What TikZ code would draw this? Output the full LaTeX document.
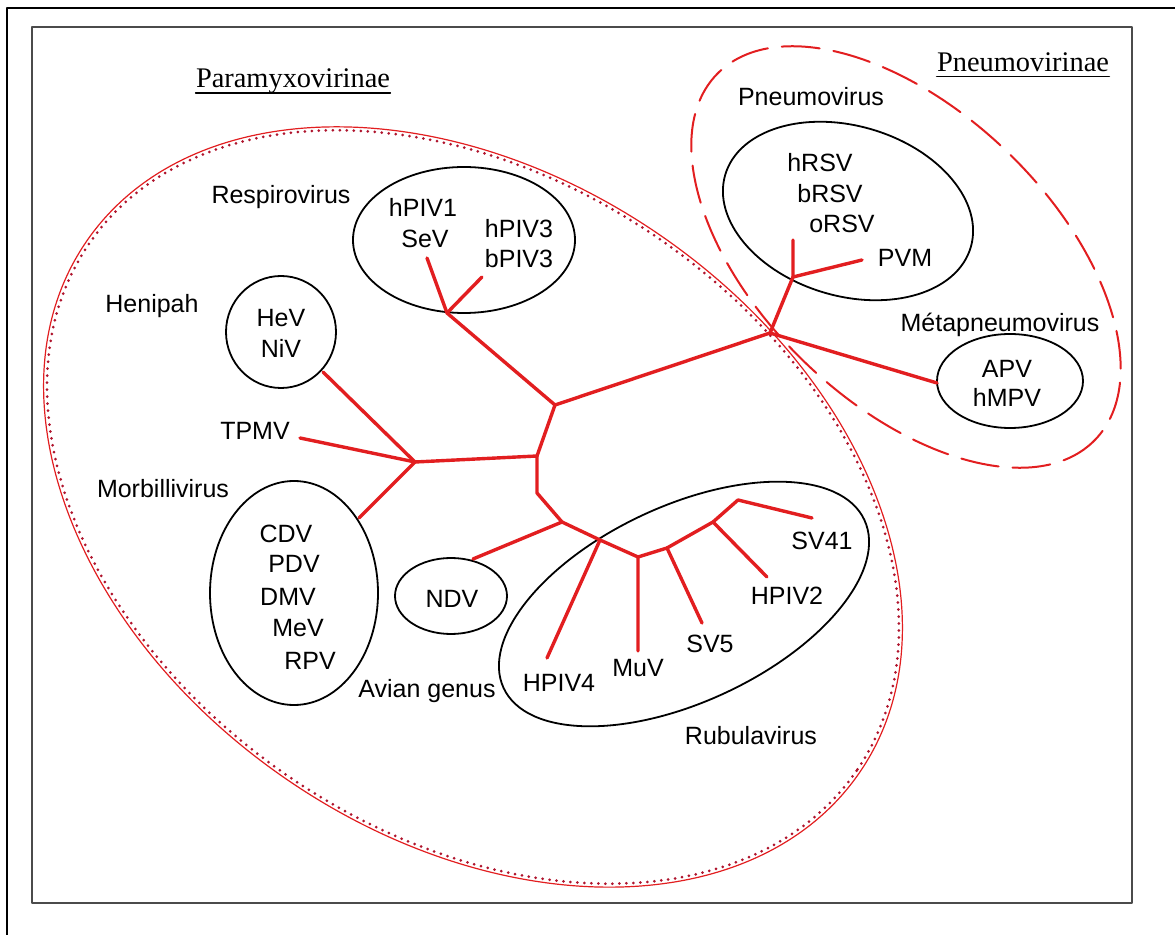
\documentclass[tikz,border=0pt]{standalone}
\usepackage{fontspec}
\setmainfont{Liberation Serif}
\setsansfont{Liberation Sans}
\definecolor{treered}{RGB}{226,30,32}
\definecolor{dotred}{RGB}{175,20,45}
\definecolor{framegray}{RGB}{75,75,75}

\begin{document}
\begin{tikzpicture}[x=0.5pt, y=-0.5pt, line join=round, line cap=round,
  lbl/.style={font=\sffamily\fontsize{12.5}{14}\selectfont, inner sep=0pt, anchor=base},
  ttl/.style={font=\rmfamily\fontsize{14.2}{16}\selectfont, inner sep=0pt, anchor=base},
  branch/.style={treered, line width=1.7pt},
  genus/.style={black, line width=0.9pt}]
	% Page size (pixels of the reference)
	\useasboundingbox (0,0) rectangle (1175,935);
	
	% Frames
	\draw[line width=1pt] (7,935) -- (7,8) -- (1175,8);
	\draw[framegray, line width=0.8pt] (32,27) rectangle (1132,903);
	
	% Subfamily boundaries
	\coordinate (PC) at (473,507);  % centre of Paramyxovirinae
	\coordinate (NC) at (906,257);  % centre of Pneumovirinae
	\draw[treered, line width=0.6pt, rotate around={-34.5:(PC)}] (PC) ellipse [x radius=469, y radius=330];
	\draw[dotred, line width=1.5pt, dash pattern=on 0pt off 3.5pt, rotate around={-34.5:(PC)}] (PC) ellipse [x radius=465.5, y radius=326.5];
	\draw[treered, line width=1pt, dash pattern=on 19pt off 7pt, rotate around={-44:(NC)}] (NC) ellipse [x radius=263, y radius=146];
	
	% Genus boundaries
	\draw[genus] (464,240) ellipse [x radius=111, y radius=73];  % Respirovirus
	\draw[genus] (281,332) ellipse [x radius=55, y radius=56];   % Henipah
	\draw[genus] (294,593) ellipse [x radius=84, y radius=112];  % Morbillivirus
	\draw[genus] (451,596) ellipse [x radius=56, y radius=38];   % Avian genus
	\draw[genus, rotate around={25:(684,604)}] (684,604) ellipse [x radius=199, y radius=98];    % Rubulavirus
	\draw[genus, rotate around={-16.5:(848,211)}] (848,211) ellipse [x radius=128, y radius=85]; % Pneumovirus
	\draw[genus] (1010,381) ellipse [x radius=73, y radius=47]; % Metapneumovirus
	
	% Titles
	\node[ttl] (tpara) at (293,88) {Paramyxovirinae};
	\node[ttl] (tpneu) at (1023,72) {Pneumovirinae};
	\draw[line width=0.7pt] ([yshift=-2.6pt]tpara.base west) -- ([yshift=-2.6pt]tpara.base east);
	\draw[line width=0.7pt] ([yshift=-2.4pt]tpneu.base west) -- ([yshift=-2.4pt]tpneu.base east);
	
	% Genus names
	\node[lbl] (respiro) at (281,204) {Respirovirus};
	\node[lbl] (henipah) at (152,313) {Henipah};
	\node[lbl] (morbilli) at (163,498) {Morbillivirus};
	\node[lbl] (avian) at (427,698) {Avian genus};
	\node[lbl] (rubula) at (751,745) {Rubulavirus};
	\node[lbl] (pneumo) at (811,106) {Pneumovirus};
	\node[lbl] (metapneumo) at (1000,332) {Métapneumovirus};
	
	% Virus names
	\node[lbl] (hpivone) at (423,217) {hPIV1};
	\node[lbl] (sev) at (425,248) {SeV};
	\node[lbl] (hpivthree) at (519,238) {hPIV3};
	\node[lbl] (bpivthree) at (519,268) {bPIV3};
	\node[lbl] (hev) at (281,327) {HeV};
	\node[lbl] (niv) at (281,358) {NiV};
	\node[lbl] (tpmv) at (255,440) {TPMV};
	\node[lbl] (cdv) at (286,543) {CDV};
	\node[lbl] (pdv) at (294,573) {PDV};
	\node[lbl] (dmv) at (288,606) {DMV};
	\node[lbl] (mev) at (298,637) {MeV};
	\node[lbl] (rpv) at (310,670) {RPV};
	\node[lbl] (ndv) at (452,608) {NDV};
	\node[lbl] (hpivfour) at (559,692) {HPIV4};
	\node[lbl] (muv) at (638,677) {MuV};
	\node[lbl] (svfive) at (710,653) {SV5};
	\node[lbl] (hpivtwo) at (787,605) {HPIV2};
	\node[lbl] (svfortyone) at (822,550) {SV41};
	\node[lbl] (hrsv) at (820,172) {hRSV};
	\node[lbl] (brsv) at (830,203) {bRSV};
	\node[lbl] (orsv) at (842,233) {oRSV};
	\node[lbl] (pvm) at (905,267) {PVM};
	\node[lbl] (apv) at (1007,378) {APV};
	\node[lbl] (hmpv) at (1007,407) {hMPV};
	
	% Tree junctions
	\coordinate (jroot) at (770,333);    % root, on the subfamily border
	\coordinate (jpneu) at (793,277);    % Pneumovirus
	\coordinate (jpara) at (555,405);    % Paramyxovirinae
	\coordinate (jresp) at (447,313);    % Respirovirus
	\coordinate (jmid) at (537,456);
	\coordinate (jmorb) at (415,462);    % Morbilli / Henipah
	\coordinate (jlow) at (537,493);
	\coordinate (javian) at (562,522);
	\coordinate (jrub) at (600,540);     % Rubulavirus
	\coordinate (jmuv) at (638,557);
	\coordinate (jsvfive) at (667,548);
	\coordinate (jhpivtwo) at (713,522);
	\coordinate (jsvfortyone) at (738,500);
	
	% Branch tips
	\coordinate (thrsv) at (793,240);
	\coordinate (tpvm) at (862,260);
	\coordinate (tapv) at (937,383);
	\coordinate (thpivone) at (427,258);
	\coordinate (thpivthree) at (482,277);
	\coordinate (thenipah) at (323,372);
	\coordinate (ttpmv) at (300,438);
	\coordinate (tmorbilli) at (359,518);
	\coordinate (tndv) at (473,559);
	\coordinate (thpivfour) at (547,658);
	\coordinate (tmuv) at (638,651);
	\coordinate (tsvfive) at (702,623);
	\coordinate (thpivtwo) at (767,577);
	\coordinate (tsvfortyone) at (812,518);
	
	% Branches
	\draw[branch] (thrsv) -- (jpneu) -- (tpvm);
	\draw[branch] (jpneu) -- (jroot) -- (tapv);
	\draw[branch] (jroot) -- (jpara) -- (jresp) -- (thpivone);
	\draw[branch] (jresp) -- (thpivthree);
	\draw[branch] (jpara) -- (jmid) -- (jmorb) -- (thenipah);
	\draw[branch] (jmorb) -- (ttpmv);
	\draw[branch] (jmorb) -- (tmorbilli);
	\draw[branch] (jmid) -- (jlow) -- (javian) -- (tndv);
	\draw[branch] (javian) -- (jrub) -- (thpivfour);
	\draw[branch] (jrub) -- (jmuv) -- (tmuv);
	\draw[branch] (jmuv) -- (jsvfive) -- (tsvfive);
	\draw[branch] (jsvfive) -- (jhpivtwo) -- (thpivtwo);
	\draw[branch] (jhpivtwo) -- (jsvfortyone) -- (tsvfortyone);
	
\end{tikzpicture}
\end{document}
